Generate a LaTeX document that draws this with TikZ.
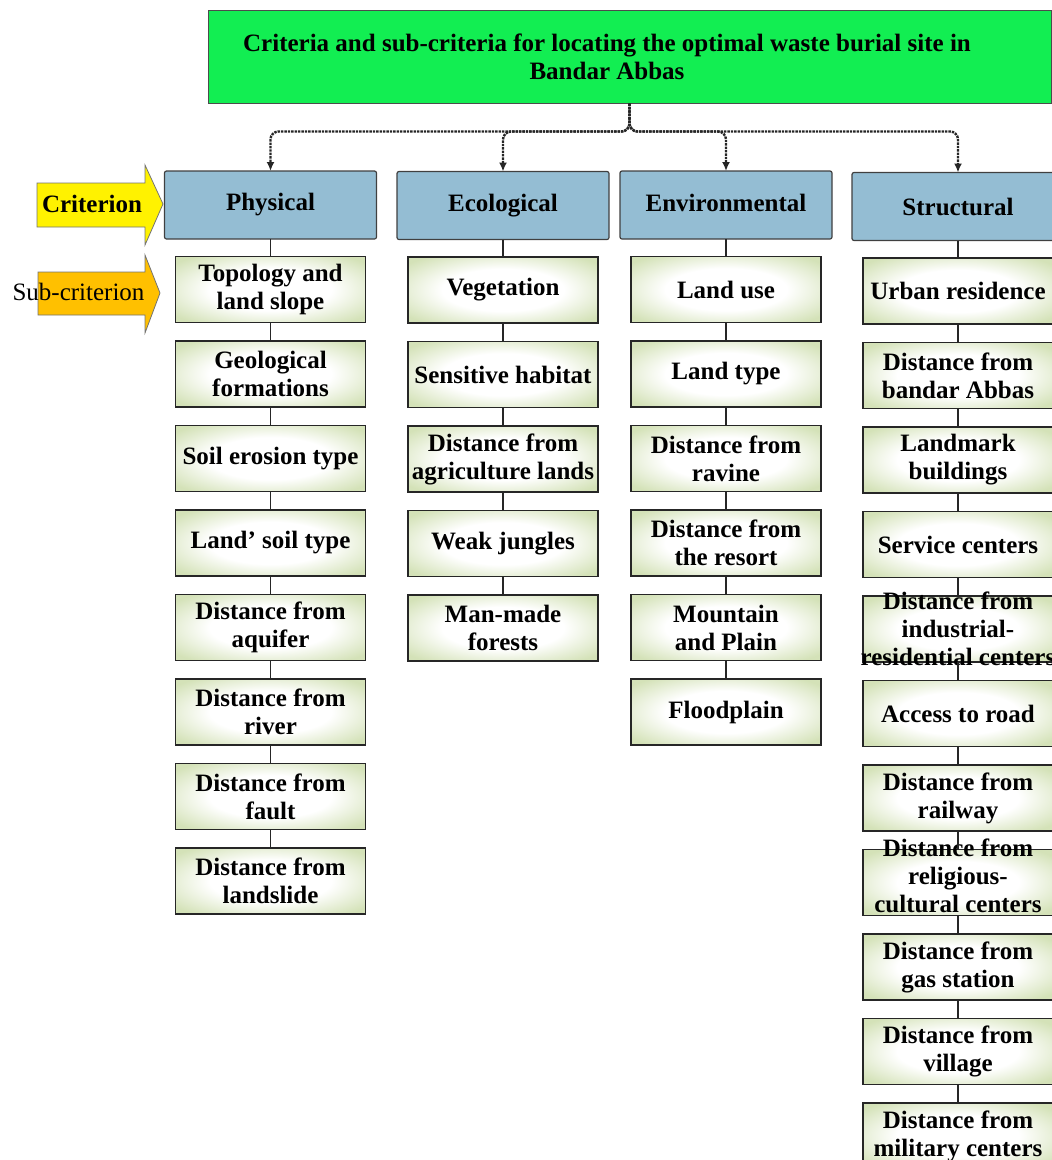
\documentclass[tikz,border=0pt]{standalone}
\usepackage{fontspec}
\setmainfont{Liberation Serif}
\usetikzlibrary{positioning, arrows.meta}

\definecolor{titlegreen}{RGB}{18,238,82}
\definecolor{critblue}{RGB}{148,189,211}
\definecolor{subgreen}{RGB}{212,226,184}
\definecolor{arrowyellow}{RGB}{255,242,0}
\definecolor{arroworange}{RGB}{255,192,0}
\pgfdeclareradialshading{glow}{\pgfpoint{0bp}{0bp}}{color(0bp)=(white); color(16bp)=(white); color(32bp)=(subgreen); color(50bp)=(subgreen)}

\begin{document}
\begin{tikzpicture}[
  x=1pt, y=1pt,
  boxfont/.style={font=\fontsize{25pt}{28pt}\selectfont\bfseries},
  titlebox/.style={draw=black!70, line width=1pt, fill=titlegreen, minimum width=843pt, minimum height=93pt},
  critbox/.style={boxfont, draw=black!75, line width=1.2pt, fill=critblue, rounded corners=2pt, minimum width=212pt, minimum height=68pt, inner sep=0pt},
  subbox/.style={boxfont, draw=black!85, line width=1.5pt, shade, shading=glow, minimum width=190pt, minimum height=66pt, inner sep=0pt, outer sep=0pt, align=center},
  subtxt/.style={boxfont, align=center, inner sep=0pt},
  link/.style={line width=1.6pt, black!85},
  dotlink/.style={densely dotted, line width=2.4pt, black!85, rounded corners=8pt, -{Latex[length=9pt, width=8pt]}},
  node distance=18.5pt
]
\useasboundingbox (0,0) rectangle (1052,-1160);

% title
\node[titlebox] (title) at (629.5,-56.5) {};
\node[subtxt] (titletext) at (607,-57) {Criteria and sub-criteria for locating the optimal waste burial site in\\Bandar Abbas};

% left markers
\filldraw[fill=arrowyellow, draw=black!55, line width=0.8pt] (37,-183) -- (145,-183) -- (145,-165) -- (163,-204) -- (145,-245) -- (145,-227) -- (37,-227) -- cycle;
\node[boxfont] (critlabel) at (92,-204) {Criterion};
\filldraw[fill=arroworange, draw=black!55, line width=0.8pt] (38,-272) -- (145,-272) -- (145,-255) -- (160,-293) -- (145,-333) -- (145,-315) -- (38,-315) -- cycle;
\node[font=\fontsize{25pt}{28pt}\selectfont] (sublabel) at (78.5,-292) {Sub-criterion};

% criteria
\node[critbox, outer sep=0pt] (phys) at (270.5,-205) {Physical};
\node[critbox, outer sep=0pt] (eco) at (503,-205.5) {Ecological};
\node[critbox, outer sep=0pt] (env) at (726,-205) {\raisebox{5pt}{Environmental}};
\node[critbox, outer sep=0pt] (str) at (958,-206.5) {Structural};

\draw[dotlink] (title.south) -- ++(0,-28) -| (phys.north);
\draw[dotlink] (title.south) -- ++(0,-28) -| (eco.north);
\draw[dotlink] (title.south) -- ++(0,-28) -| (env.north);
\draw[dotlink] (title.south) -- ++(0,-28) -| (str.north);

% physical
\node[subbox, below=17.5pt of phys] (p1) {Topology and\\land slope};
\node[subbox, below=of p1] (p2) {Geological\\formations};
\node[subbox, below=of p2] (p3) {Soil erosion type};
\node[subbox, below=of p3] (p4) {Land' soil type};
\node[subbox, below=of p4] (p5) {Distance from\\aquifer};
\node[subbox, below=of p5] (p6) {Distance from\\river};
\node[subbox, below=of p6] (p7) {Distance from\\fault};
\node[subbox, below=of p7] (p8) {Distance from\\landslide};

% ecological
\node[subbox, below=17.5pt of eco] (e1) {Vegetation};
\node[subbox, below=of e1] (e2) {Sensitive habitat};
\node[subbox, below=of e2] (e3) {Distance from\\agriculture lands};
\node[subbox, below=of e3] (e4) {Weak jungles};
\node[subbox, below=of e4] (e5) {Man-made\\forests};

% environmental
\node[subbox, below=17.5pt of env] (v1) {Land use};
\node[subbox, below=of v1] (v2) {Land type};
\node[subbox, below=of v2] (v3) {Distance from\\ravine};
\node[subbox, below=of v3] (v4) {Distance from\\the resort};
\node[subbox, below=of v4] (v5) {Mountain\\and Plain};
\node[subbox, below=of v5] (v6) {Floodplain};

% structural
\node[subbox, below=17.5pt of str] (s1) {Urban residence};
\node[subbox, below=of s1] (s2) {Distance from\\bandar Abbas};
\node[subbox, below=of s2] (s3) {Landmark\\buildings};
\node[subbox, below=of s3] (s4) {Service centers};
\node[subbox, below=of s4, label={[subtxt]center:{Distance from\\industrial-\\residential centers}}] (s5) {};
\node[subbox, below=of s5] (s6) {Access to road};
\node[subbox, below=of s6] (s7) {Distance from\\railway};
\node[subbox, below=of s7, label={[subtxt, yshift=7pt]center:{Distance from\\religious-\\cultural centers}}] (s8) {};
\node[subbox, below=of s8] (s9) {Distance from\\gas station};
\node[subbox, below=of s9] (s10) {Distance from\\village};
\node[subbox, below=of s10] (s11) {Distance from\\military centers};

\draw[link] (phys) -- (p1);
\draw[link] (p1) -- (p2);
\draw[link] (p2) -- (p3);
\draw[link] (p3) -- (p4);
\draw[link] (p4) -- (p5);
\draw[link] (p5) -- (p6);
\draw[link] (p6) -- (p7);
\draw[link] (p7) -- (p8);
\draw[link] (eco) -- (e1);
\draw[link] (e1) -- (e2);
\draw[link] (e2) -- (e3);
\draw[link] (e3) -- (e4);
\draw[link] (e4) -- (e5);
\draw[link] (env) -- (v1);
\draw[link] (v1) -- (v2);
\draw[link] (v2) -- (v3);
\draw[link] (v3) -- (v4);
\draw[link] (v4) -- (v5);
\draw[link] (v5) -- (v6);
\draw[link] (str) -- (s1);
\draw[link] (s1) -- (s2);
\draw[link] (s2) -- (s3);
\draw[link] (s3) -- (s4);
\draw[link] (s4) -- (s5);
\draw[link] (s5) -- (s6);
\draw[link] (s6) -- (s7);
\draw[link] (s7) -- (s8);
\draw[link] (s8) -- (s9);
\draw[link] (s9) -- (s10);
\draw[link] (s10) -- (s11);
\end{tikzpicture}
\end{document}
